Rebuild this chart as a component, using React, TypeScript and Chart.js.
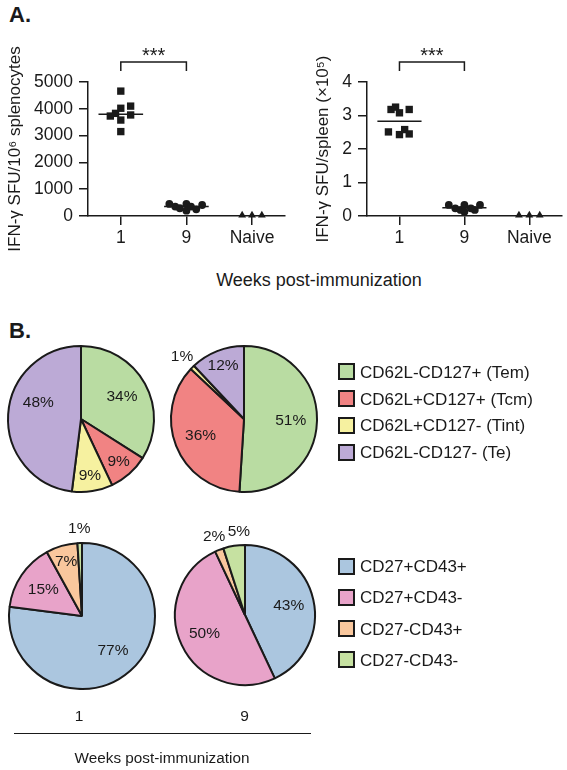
import React, { useEffect, useRef } from "react";
import { Chart, registerables } from "chart.js";

Chart.register(...registerables);

const FONT = '"Liberation Sans", Arial, Helvetica, sans-serif';
const INK = "#1a1a1a";
Chart.defaults.font.family = FONT;
Chart.defaults.color = INK;

// ---------- Panel A data ----------
const GROUPS = ["1", "9", "Naive"];

// IFN-γ SFU / 10^6 splenocytes (x = jitter offset within group)
const SPL_W1_JITTER = [0, 0.15, 0, -0.08, -0.16, 0.15, 0, 0];
const SPL_W1_VALUES = [4660, 4100, 4020, 3830, 3730, 3770, 3580, 3150];
const SPL_W9_JITTER = [-0.26, -0.17, -0.1, 0, 0, 0.07, 0.15, 0.24];
const SPL_W9_VALUES = [450, 350, 290, 450, 200, 350, 250, 410];
const SPL_NAIVE_JITTER = [-0.15, 0, 0.15];
const SPL_NAIVE_VALUES = [25, 25, 25];
const SPL_MEANS = [3800, 350];
const SPL_TICKS = { max: 5000, step: 1000 };

// IFN-γ SFU / spleen (x10^5)
const SPLEEN_W1_JITTER = [-0.13, -0.06, 0, 0.15, -0.17, 0, 0.08, 0.15];
const SPLEEN_W1_VALUES = [3.18, 3.25, 3.08, 3.18, 2.51, 2.43, 2.58, 2.45];
const SPLEEN_W9_JITTER = [-0.24, -0.14, -0.06, 0, 0, 0.1, 0.16, 0.24];
const SPLEEN_W9_VALUES = [0.33, 0.23, 0.18, 0.33, 0.13, 0.23, 0.18, 0.33];
const SPLEEN_NAIVE_JITTER = [-0.16, 0, 0.16];
const SPLEEN_NAIVE_VALUES = [0.02, 0.02, 0.02];
const SPLEEN_MEANS = [2.83, 0.25];
const SPLEEN_TICKS = { max: 4, step: 1 };

// ---------- Panel B data ----------
const PHENO_LABELS = ["CD62L-CD127+ (Tem)", "CD62L+CD127+ (Tcm)", "CD62L+CD127- (Tint)", "CD62L-CD127- (Te)"];
const PHENO_COLORS = ["#b9dca2", "#f18383", "#f6f1a0", "#bcaad6"];
const PHENO_WEEK1 = [34, 9, 9, 48];
const PHENO_WEEK9 = [51, 36, 1, 12];

const CD_LABELS = ["CD27+CD43+", "CD27+CD43-", "CD27-CD43+", "CD27-CD43-"];
const CD_COLORS = ["#abc6df", "#e8a3c9", "#f9c79d", "#c6e1a1"];
const CD_WEEK1 = [77, 15, 7, 1];
const CD_WEEK9 = [43, 50, 2, 5];

const MEAN_HALF = 0.34;

function pts(group: number, jitter: number[], values: number[]) {
  return values.map((v, i) => ({ x: group + jitter[i], y: v }));
}

const sigPlugin = {
  id: "sig",
  afterDraw(chart: any, _args: any, opts: any) {
    const { ctx, chartArea, scales } = chart;
    const x = scales.x;
    const x1 = x.getPixelForValue(opts.from);
    const x2 = x.getPixelForValue(opts.to);
    const yTop = chartArea.top - opts.rise;
    const yBot = yTop + opts.drop;
    ctx.save();
    ctx.strokeStyle = INK;
    ctx.lineWidth = 1.5;
    ctx.beginPath();
    ctx.moveTo(x1, yBot);
    ctx.lineTo(x1, yTop);
    ctx.lineTo(x2, yTop);
    ctx.lineTo(x2, yBot);
    ctx.stroke();
    ctx.fillStyle = INK;
    ctx.font = `20px ${FONT}`;
    ctx.textAlign = "center";
    ctx.textBaseline = "alphabetic";
    ctx.fillText(opts.label, (x1 + x2) / 2, yTop - 0);
    ctx.restore();
  },
};

type DotProps = {
  left: number;
  width: number;
  height: number;
  yAxisWidth: number;
  padRight: number;
  title: string;
  titlePad: number;
  ticks: { max: number; step: number };
  w1: { x: number; y: number }[];
  w9: { x: number; y: number }[];
  naive: { x: number; y: number }[];
  means: number[];
};

function DotPlot(p: DotProps) {
  const ref = useRef<HTMLCanvasElement>(null);
  useEffect(() => {
    if (!ref.current) return;
    const meanSets = p.means.map((m, gi) => ({
      type: "scatter" as const,
      data: [
        { x: gi - MEAN_HALF, y: m },
        { x: gi + MEAN_HALF, y: m },
      ],
      showLine: true,
      borderColor: INK,
      borderWidth: 1.5,
      pointRadius: 0,
      clip: false as any,
    }));
    const chart = new Chart(ref.current, {
      type: "scatter",
      data: {
        datasets: [
          { data: p.w1, pointStyle: "rect", pointRadius: 5.2, backgroundColor: INK, borderColor: INK, borderWidth: 0, clip: false as any },
          { data: p.w9, pointStyle: "circle", pointRadius: 3.9, backgroundColor: INK, borderColor: INK, borderWidth: 0, clip: false as any },
          { data: p.naive, pointStyle: "triangle", pointRadius: 4.5, backgroundColor: INK, borderColor: INK, borderWidth: 0, clip: false as any },
          ...meanSets,
        ] as any,
      },
      options: {
        responsive: false,
        animation: false,
        layout: { padding: { top: 82, right: p.padRight, left: 0, bottom: 0 } },
        plugins: {
          legend: { display: false },
          tooltip: { enabled: false },
          sig: { from: 0, to: 1, rise: 20, drop: 9, label: "***" },
        } as any,
        scales: {
          x: {
            type: "linear",
            min: -0.5,
            max: 2.5,
            afterFit: (s: any) => {
              s.height = p.height - 216;
            },
            afterBuildTicks: (s: any) => {
              s.ticks = GROUPS.map((_, i) => ({ value: i }));
            },
            ticks: {
              callback: (v: any) => GROUPS[Math.round(Number(v))],
              font: { size: 17.5 },
              color: INK,
              padding: 3,
              autoSkip: false,
              maxRotation: 0,
            },
            grid: { display: true, drawOnChartArea: false, drawTicks: true, tickLength: 9, color: INK, lineWidth: 1.5 },
            border: { display: true, color: INK, width: 1.5 },
          },
          y: {
            type: "linear",
            min: 0,
            max: p.ticks.max,
            afterFit: (s: any) => {
              s.width = p.yAxisWidth;
            },
            ticks: {
              stepSize: p.ticks.step,
              font: { size: 17.5 },
              color: INK,
              padding: 6,
              callback: (v: any) => String(v),
            },
            grid: { display: true, drawOnChartArea: false, drawTicks: true, tickLength: 9, color: INK, lineWidth: 1.5 },
            border: { display: true, color: INK, width: 1.5 },
            title: {
              display: true,
              text: p.title,
              font: { size: 17 },
              color: INK,
              padding: { top: p.titlePad, bottom: 0 },
            },
          },
        },
      },
      plugins: [sigPlugin],
    });
    return () => chart.destroy();
  }, []);
  return (
    <canvas
      ref={ref}
      width={p.width}
      height={p.height}
      style={{ position: "absolute", left: p.left, top: 0, width: p.width, height: p.height }}
    />
  );
}

const pctLabelPlugin = {
  id: "pctLabels",
  afterDatasetsDraw(chart: any, _a: any, opts: any) {
    const { ctx } = chart;
    const meta = chart.getDatasetMeta(0);
    const values: number[] = chart.data.datasets[0].data;
    const nudges = opts.nudges || {};
    ctx.save();
    ctx.fillStyle = INK;
    ctx.font = `15.5px ${FONT}`;
    ctx.textAlign = "center";
    ctx.textBaseline = "middle";
    meta.data.forEach((el: any, i: number) => {
      const { x, y, startAngle, endAngle, outerRadius } = el.getProps(["x", "y", "startAngle", "endAngle", "outerRadius"], true);
      const v = values[i];
      const mid = (startAngle + endAngle) / 2;
      const f = v <= 5 ? 1.2 : v < 13 ? 0.78 : 0.64;
      const n = nudges[i] || [0, 0];
      ctx.fillText(`${v}%`, x + Math.cos(mid) * outerRadius * f + n[0], y + Math.sin(mid) * outerRadius * f + n[1]);
    });
    ctx.restore();
  },
};

type PieProps = {
  cx: number;
  cy: number;
  r: number;
  values: number[];
  labels: string[];
  colors: string[];
  nudges?: Record<number, [number, number]>;
};

function PieChart(p: PieProps) {
  const ref = useRef<HTMLCanvasElement>(null);
  const pad = 36;
  const size = 2 * (p.r + pad);
  useEffect(() => {
    if (!ref.current) return;
    const chart = new Chart(ref.current, {
      type: "pie",
      data: {
        labels: p.labels,
        datasets: [
          {
            data: p.values,
            backgroundColor: p.colors,
            borderColor: INK,
            borderWidth: 2,
          },
        ],
      },
      options: {
        responsive: false,
        animation: false,
        layout: { padding: pad },
        plugins: {
          legend: { display: false },
          tooltip: { enabled: false },
          pctLabels: { nudges: p.nudges || {} },
        } as any,
      },
      plugins: [pctLabelPlugin],
    });
    return () => chart.destroy();
  }, []);
  return (
    <canvas
      ref={ref}
      width={size}
      height={size}
      style={{ position: "absolute", left: p.cx - p.r - pad, top: p.cy - p.r - pad, width: size, height: size }}
    />
  );
}

function Txt(props: { x: number; y: number; size: number; bold?: boolean; children: React.ReactNode }) {
  return (
    <div
      style={{
        position: "absolute",
        left: props.x,
        top: props.y,
        transform: "translate(-50%, -50%)",
        fontSize: props.size,
        fontWeight: props.bold ? 700 : 400,
        lineHeight: 1,
        whiteSpace: "nowrap",
        fontFamily: FONT,
        color: INK,
      }}
    >
      {props.children}
    </div>
  );
}

function Legend(props: { top: number; step: number; labels: string[]; colors: string[] }) {
  return (
    <>
      {props.labels.map((l, i) => {
        const cy = props.top + i * props.step;
        return (
          <React.Fragment key={l}>
            <div
              style={{
                position: "absolute",
                left: 338,
                top: cy - 8.5,
                width: 17,
                height: 17,
                boxSizing: "border-box",
                border: `2px solid ${INK}`,
                background: props.colors[i],
              }}
            />
            <div
              style={{
                position: "absolute",
                left: 360,
                top: cy,
                transform: "translateY(-50%)",
                fontSize: 17,
                lineHeight: 1,
                whiteSpace: "nowrap",
                fontFamily: FONT,
                color: INK,
              }}
            >
              {l}
            </div>
          </React.Fragment>
        );
      })}
    </>
  );
}

export default function App() {
  return (
    <div
      style={{
        position: "absolute",
        left: 0,
        top: 0,
        width: 567,
        height: 770,
        overflow: "hidden",
        background: "#fff",
        fontFamily: FONT,
      }}
    >
      <Txt x={20} y={15} size={22} bold>
        A.
      </Txt>
      <DotPlot
        left={0}
        width={290}
        height={260}
        yAxisWidth={88}
        padRight={3}
        title="IFN-γ SFU/10⁶ splenocytes"
        titlePad={5}
        ticks={SPL_TICKS}
        w1={pts(0, SPL_W1_JITTER, SPL_W1_VALUES)}
        w9={pts(1, SPL_W9_JITTER, SPL_W9_VALUES)}
        naive={pts(2, SPL_NAIVE_JITTER, SPL_NAIVE_VALUES)}
        means={SPL_MEANS}
      />
      <DotPlot
        left={290}
        width={277}
        height={260}
        yAxisWidth={77}
        padRight={0}
        title="IFN-γ SFU/spleen (×10⁵)"
        titlePad={23}
        ticks={SPLEEN_TICKS}
        w1={pts(0, SPLEEN_W1_JITTER, SPLEEN_W1_VALUES)}
        w9={pts(1, SPLEEN_W9_JITTER, SPLEEN_W9_VALUES)}
        naive={pts(2, SPLEEN_NAIVE_JITTER, SPLEEN_NAIVE_VALUES)}
        means={SPLEEN_MEANS}
      />
      <Txt x={319} y={280} size={18}>
        Weeks post-immunization
      </Txt>

      <Txt x={20} y={331} size={22} bold>
        B.
      </Txt>
      <PieChart cx={80.5} cy={419} r={74} values={PHENO_WEEK1} labels={PHENO_LABELS} colors={PHENO_COLORS} nudges={{ 3: [4, -13] }} />
      <PieChart cx={244} cy={419} r={74} values={PHENO_WEEK9} labels={PHENO_LABELS} colors={PHENO_COLORS} />
      <Legend top={371.7} step={26.8} labels={PHENO_LABELS} colors={PHENO_COLORS} />

      <PieChart cx={82} cy={616} r={74} values={CD_WEEK1} labels={CD_LABELS} colors={CD_COLORS} />
      <PieChart cx={244.5} cy={615} r={71} values={CD_WEEK9} labels={CD_LABELS} colors={CD_COLORS} nudges={{ 3: [7, 0] }} />
      <Legend top={566} step={31.3} labels={CD_LABELS} colors={CD_COLORS} />

      <Txt x={79} y={716} size={15.5}>
        1
      </Txt>
      <Txt x={244.5} y={716} size={15.5}>
        9
      </Txt>
      <div style={{ position: "absolute", left: 14, top: 732.5, width: 297, height: 1.5, background: INK }} />
      <Txt x={162} y={758} size={15.3}>
        Weeks post-immunization
      </Txt>
    </div>
  );
}
